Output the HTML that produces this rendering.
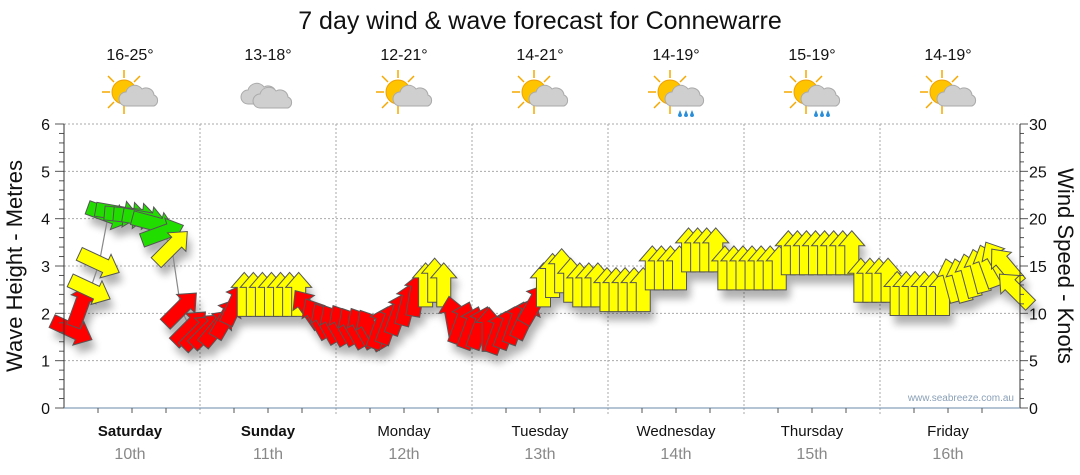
<!DOCTYPE html>
<html><head><meta charset="utf-8">
<style>
body{margin:0;background:#fff;}
svg{display:block;font-family:"Liberation Sans",sans-serif;}
</style></head>
<body>
<svg id="chart" width="1080" height="475" viewBox="0 0 1080 475">
<defs>
<filter id="sh" x="-50%" y="-50%" width="200%" height="200%"><feGaussianBlur stdDeviation="4"/></filter>
<g id="icon-sun">
<g stroke="#f5a800" stroke-width="1.5">
<line x1="-22" y1="0" x2="-14" y2="0"/><line x1="0" y1="-22" x2="0" y2="-14"/><line x1="-16" y1="-16" x2="-10" y2="-10"/><line x1="16" y1="-16" x2="10" y2="-10"/><line x1="-16" y1="16" x2="-10" y2="10"/><line x1="0" y1="22" x2="0" y2="14"/><line x1="22" y1="0" x2="14" y2="0"/>
</g>
<circle r="12" fill="#ffc400" stroke="#f0a000"/>
</g>
<g id="icon-cloud"><path d="M-8,10 a7,7 0 0 1 0,-14 a9,9 0 0 1 16,-3 a8,8 0 0 1 12,6 a6,6 0 0 1 0,11 z" fill="#cfcfcf" stroke="#aaa"/></g>
</defs>
<text x="540" y="29" font-size="25" text-anchor="middle" fill="#111">7 day wind &amp; wave forecast for Connewarre</text>
<g id="topG"></g>
<g id="grid"></g>
<g id="shadows" filter="url(#sh)" opacity="0.3"></g>
<polyline id="waveline" fill="none" stroke="#888" stroke-width="1.2"/>
<g id="arrows"></g>
<g id="axes"></g>
<text x="1014" y="401" font-size="10" fill="#8aa0b8" text-anchor="end">www.seabreeze.com.au</text>
<text transform="translate(22,266) rotate(-90)" font-size="22" text-anchor="middle" fill="#111">Wave Height - Metres</text>
<text transform="translate(1058,266) rotate(90)" font-size="22" text-anchor="middle" fill="#111">Wind Speed - Knots</text>
</svg>
<script>
const days=["Saturday","Sunday","Monday","Tuesday","Wednesday","Thursday","Friday"];
const dates=["10th","11th","12th","13th","14th","15th","16th"];
const temps=["16-25°","13-18°","12-21°","14-21°","14-19°","15-19°","14-19°"];
const icons=["sun-cloud","cloud","sun-cloud","sun-cloud","sun-rain","sun-rain","sun-cloud"];
const waveTicks=[0,1,2,3,4,5,6];
const windTicks=[0,5,10,15,20,25,30];
const windSpeed=[8.2,10.8,12.5,15.3,20.4,20.6,20.4,20.3,20,19.5,18.5,17,10.5,8.5,8,8.2,8.5,9.5,11,
12,12,12,12,12,12,12,
10.5,9.5,9,8.8,8.8,8.5,8.5,8.3,8.5,9,10,11,12,13,13.5,13,
9.5,9,8.5,8.5,8.3,8,8.5,9,9.5,11,13,14,14.5,13.5,13,13,13,
12.5,12.5,12.5,12.5,12.5,14.8,14.8,14.8,14.8,16.7,16.7,16.7,16.7,14.8,14.8,14.8,14.8,14.8,14.8,14.8,
16.4,16.4,16.4,16.4,16.4,16.4,16.4,16.4,13.5,13.5,13.5,13.5,12.1,12.1,12.1,12.1,12.1,12.1,
13.5,13.5,14,14.5,15,15.5,15,12.5];
const windDir=[115,20,115,115,110,100,95,95,100,105,70,45,45,45,45,45,40,30,25,
0,0,0,0,0,0,0,
-35,-30,-30,-30,-30,-30,-30,-30,20,20,20,15,10,0,0,0,
-10,20,20,20,0,20,20,20,25,30,0,0,0,0,0,0,0,
0,0,0,0,0,0,0,0,0,0,0,0,0,0,0,0,0,0,0,0,
0,0,0,0,0,0,0,0,0,0,0,0,0,0,0,0,0,0,
-15,-15,-15,-15,-20,-30,-40,-45];
const windColor=["r","r","y","y","g","g","g","g","g","g","g","y","r","r","r","r","r","r","r",
"y","y","y","y","y","y","y",
"r","r","r","r","r","r","r","r","r","r","r","r","r","y","y","y",
"r","r","r","r","r","r","r","r","r","r","y","y","y","y","y","y","y",
"y","y","y","y","y","y","y","y","y","y","y","y","y","y","y","y","y","y","y","y",
"y","y","y","y","y","y","y","y","y","y","y","y","y","y","y","y","y","y",
"y","y","y","y","y","y","y","y"];
const NS="http://www.w3.org/2000/svg";
const X0=64,DW=136,Y0=408,YT=124;
const yW=v=>Y0-(v/6)*(Y0-YT);
const yK=k=>Y0-(k/30)*(Y0-YT);
const xI=i=>72+i*(943/(windSpeed.length-1));
const colors={r:"#ff0000",y:"#ffff00",g:"#22dd00"};
function mk(tag,attrs,parent){const e=document.createElementNS(NS,tag);for(const k in attrs)e.setAttribute(k,attrs[k]);parent.appendChild(e);return e;}
const grid=document.getElementById('grid'),axes=document.getElementById('axes'),topG=document.getElementById('topG');
waveTicks.forEach(v=>{
 if(v>0){const l=mk('line',{x1:X0,x2:1020,y1:yW(v),y2:yW(v),stroke:'#aaa','stroke-dasharray':'2,2'},grid);
 
 }
 const t=mk('text',{x:50,y:yW(v)+6,'font-size':16,'text-anchor':'end',fill:'#111'},axes);t.textContent=v;
 
 
});
for(let n=0;n<=30;n++){const v=n*0.2;mk('line',{x1:X0-(n%5==0?9:5),x2:X0,y1:yW(v),y2:yW(v),stroke:'#555'},axes);}
windTicks.forEach(v=>{
 const t=mk('text',{x:1029,y:yK(v)+6,'font-size':16,fill:'#111'},axes);t.textContent=v;
 
 
});
for(let v=0;v<=30;v+=1){mk('line',{x1:1020,x2:1020+(v%5==0?8:4),y1:yK(v),y2:yK(v),stroke:'#555'},axes);}
mk('line',{x1:X0,x2:X0,y1:YT,y2:Y0,stroke:'#333'},axes);
mk('line',{x1:1020,x2:1020,y1:YT,y2:Y0,stroke:'#333'},axes);
mk('line',{x1:X0,x2:1020,y1:Y0,y2:Y0,stroke:'#6a8aaa'},axes);
days.forEach((d,i)=>{
 const xc=X0+DW*i+DW/2+(i==0?-2:0);
 if(i>0){mk('line',{x1:X0+DW*i,x2:X0+DW*i,y1:YT,y2:Y0+8,stroke:'#aaa','stroke-dasharray':'2,2'},grid);}
 for(let q=1;q<4;q++)mk('line',{x1:X0+DW*i+q*DW/4,x2:X0+DW*i+q*DW/4,y1:Y0,y2:Y0+5,stroke:'#555'},axes);
 const t=mk('text',{x:xc,y:436,'font-size':15,'text-anchor':'middle',fill:'#111','font-weight':i<2?'bold':'normal'},axes);t.textContent=d;
 
 
 const t2=mk('text',{x:xc,y:459,'font-size':16,'text-anchor':'middle',fill:'#888'},axes);t2.textContent=dates[i];
 
 
 const t3=mk('text',{x:xc,y:60,'font-size':16,'text-anchor':'middle',fill:'#111'},topG);t3.textContent=temps[i];
 
 
 const g=mk('g',{transform:`translate(${xc},94)`},topG);
 
 
 if(icons[i]!=="cloud")mk('use',{href:'#icon-sun',transform:'translate(-6,-2)'},g);
 if(icons[i]==="cloud"){mk('use',{href:'#icon-cloud',transform:'translate(-12,0)'},g);mk('use',{href:'#icon-cloud',transform:'translate(0,4)'},g);}
 else mk('use',{href:'#icon-cloud',transform:'translate(4,2)'},g);
 if(icons[i]==="sun-rain"){for(let r=0;r<3;r++)mk('path',{d:`M${4+r*6},16 l-2,5 a2,2 0 0 0 4,0 z`,fill:'#2a8fd8'},g);}
});
const arrowPath="M0,-22 L13,-7 L7,-7 L7,22 L-7,22 L-7,-7 L-13,-7 Z";
const ag=document.getElementById('arrows'),sg=document.getElementById('shadows');
const pts=[];
windSpeed.forEach((k,i)=>{
 const x=xI(i),y=yK(k);pts.push(x+','+y);
 mk('path',{d:arrowPath,transform:`translate(${x+4},${y+9}) rotate(${windDir[i]})`,fill:'#000'},sg);
 const p=mk('path',{d:arrowPath,transform:`translate(${x},${y}) rotate(${windDir[i]})`,fill:colors[windColor[i]],stroke:'#555','stroke-width':1},ag);
 
 
});
document.getElementById('waveline').setAttribute('points',pts.join(' '));
</script>
</body></html>
